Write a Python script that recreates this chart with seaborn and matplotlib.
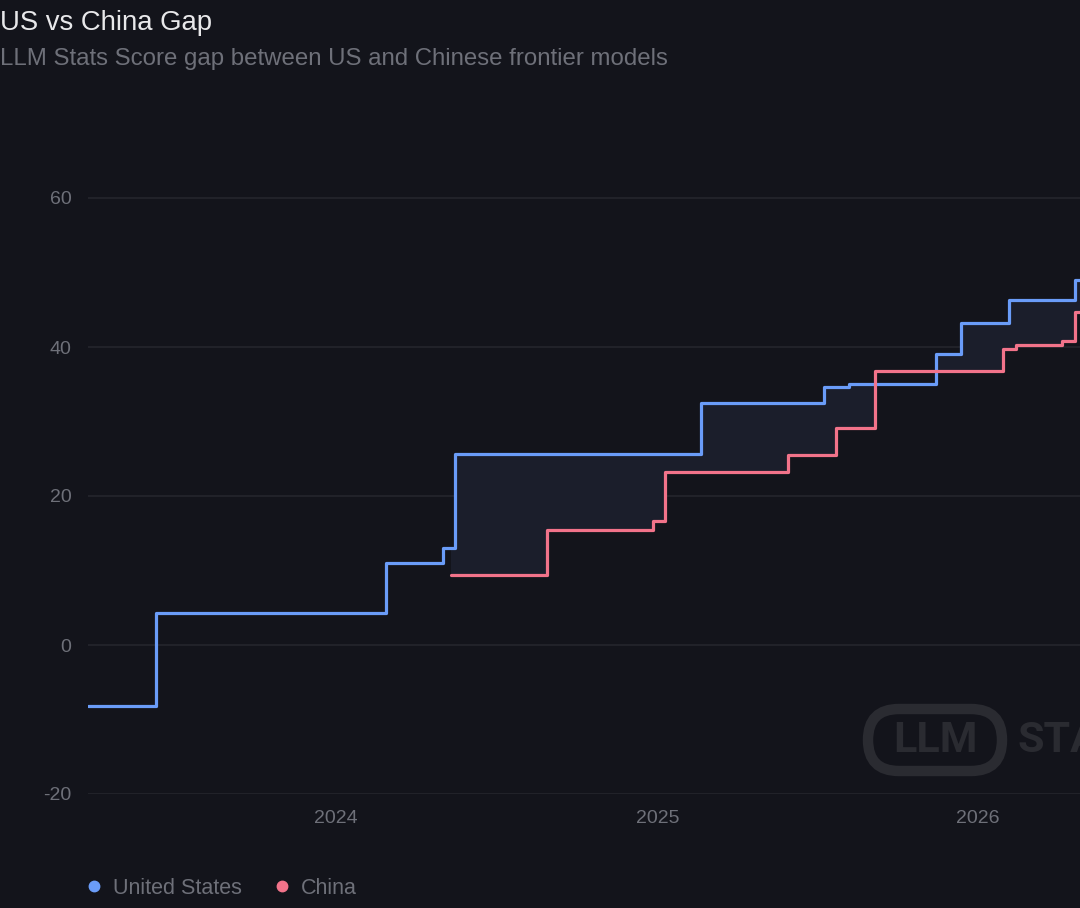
import pandas as pd
import numpy as np
import matplotlib
matplotlib.use("Agg")
import matplotlib.pyplot as plt
import matplotlib.dates as mdates
from matplotlib.lines import Line2D
from matplotlib.patches import FancyBboxPatch
import seaborn as sns

# LLM Stats Score of the best frontier model, by country (step changes)
us_dates = ['2023-03-25', '2023-06-10', '2024-02-27', '2024-05-02', '2024-05-16',
            '2025-02-20', '2025-07-09', '2025-08-07', '2025-11-14', '2025-12-12',
            '2026-02-05', '2026-04-21', '2026-04-30']
us_scores = [-8.2, 4.3, 11.0, 13.0, 25.6, 32.5, 34.6, 35.0, 39.1, 43.2, 46.3, 49.0, 49.0]

cn_dates = ['2024-05-11', '2024-08-28', '2024-12-27', '2025-01-10', '2025-05-30',
            '2025-07-23', '2025-09-05', '2026-01-29', '2026-02-13', '2026-04-06',
            '2026-04-21', '2026-04-30']
cn_scores = [9.4, 15.4, 16.6, 23.2, 25.5, 29.1, 36.8, 39.7, 40.3, 40.8, 44.7, 44.7]

y_ticks = [-20, 0, 20, 40, 60]
x_ticks = ['2024-01-01', '2025-01-01', '2026-01-01']

BG = '#13141b'
US_COLOR = '#6a9cf8'
CN_COLOR = '#f2738a'
GRID = '#24252d'
MUTED = '#6e7079'

us = pd.DataFrame({'date': pd.to_datetime(us_dates), 'score': us_scores})
cn = pd.DataFrame({'date': pd.to_datetime(cn_dates), 'score': cn_scores})

sns.set_theme(style='dark')
plt.rcParams['font.family'] = ['Liberation Sans', 'DejaVu Sans']
plt.rcParams['axes.unicode_minus'] = False

fig = plt.figure(figsize=(10.8, 9.08), dpi=100, facecolor=BG)
ax = fig.add_axes([88 / 1080, 114 / 908, 992 / 1080, (794 - 123.5) / 908])
ax.set_facecolor(BG)

# gap band between the two series (zero height where China is ahead)
both = pd.merge(us, cn, on='date', how='outer', suffixes=('_us', '_cn')).sort_values('date')
both = both.ffill()
both = both[both['date'] >= cn['date'].min()]
lower = np.minimum(both['score_cn'], both['score_us'])
ax.fill_between(both['date'], lower, both['score_us'], step='post',
                color='#1b1e2b', linewidth=0, zorder=1)

sns.lineplot(data=us, x='date', y='score', ax=ax, color=US_COLOR, linewidth=2.3,
             drawstyle='steps-post', solid_joinstyle='round', zorder=3)
sns.lineplot(data=cn, x='date', y='score', ax=ax, color=CN_COLOR, linewidth=2.3,
             drawstyle='steps-post', solid_joinstyle='round', zorder=3)

x0 = pd.Timestamp('2023-03-25')
x1 = pd.Timestamp('2024-01-01') + (pd.Timestamp('2025-01-01') - pd.Timestamp('2024-01-01')) * (745 / 322)
ax.set_xlim(x0, x1)
ax.set_ylim(-20, 70)

ax.set_yticks(y_ticks)
ax.set_xticks(pd.to_datetime(x_ticks))
ax.xaxis.set_major_formatter(mdates.DateFormatter('%Y'))
ax.grid(axis='y', color=GRID, linewidth=1.2)
ax.grid(axis='x', visible=False)
for s in ax.spines.values():
    s.set_visible(False)
ax.tick_params(axis='both', length=0, colors=MUTED, labelsize=14)
ax.tick_params(axis='y', pad=12)
ax.tick_params(axis='x', pad=11.5)
ax.set_xlabel('')
ax.set_ylabel('')

# titles
fig.text(0.0, 1 - 23 / 908, 'US vs China Gap', color='#e8e8ea', fontsize=19.8,
         ha='left', va='center')
fig.text(0.0, 1 - 59 / 908, 'LLM Stats Score gap between US and Chinese frontier models',
         color=MUTED, fontsize=17.3, ha='left', va='center')

# legend
handles = [Line2D([], [], marker='o', linestyle='none', color=US_COLOR, markersize=7.5),
           Line2D([], [], marker='o', linestyle='none', color=CN_COLOR, markersize=7.5)]
leg = fig.legend(handles, ['United States', 'China'], loc='center left',
                 bbox_to_anchor=(62 / 1080, 1 - 888 / 908), ncol=2, frameon=False,
                 fontsize=15.5, handletextpad=0.25, columnspacing=1.3, handlelength=1.2)
for t in leg.get_texts():
    t.set_color(MUTED)

# watermark
wm = '#2a2b31'
pill = FancyBboxPatch((8.68, (908 - 771) / 100), 1.34, 0.62,
                      boxstyle='round,pad=0,rounding_size=0.31',
                      transform=fig.dpi_scale_trans, facecolor='none',
                      edgecolor=wm, linewidth=7.5, zorder=0)
fig.patches.append(pill)
fig.text(936 / 1080, 1 - 740 / 908, 'LLM', color=wm, fontsize=31, fontweight='bold',
         ha='center', va='center', family='Roboto')
fig.text(1018 / 1080, 1 - 740 / 908, 'STATS', color=wm, fontsize=31, fontweight='bold',
         ha='left', va='center', family='Roboto')

fig.savefig('out.png', dpi=100, facecolor=BG)
